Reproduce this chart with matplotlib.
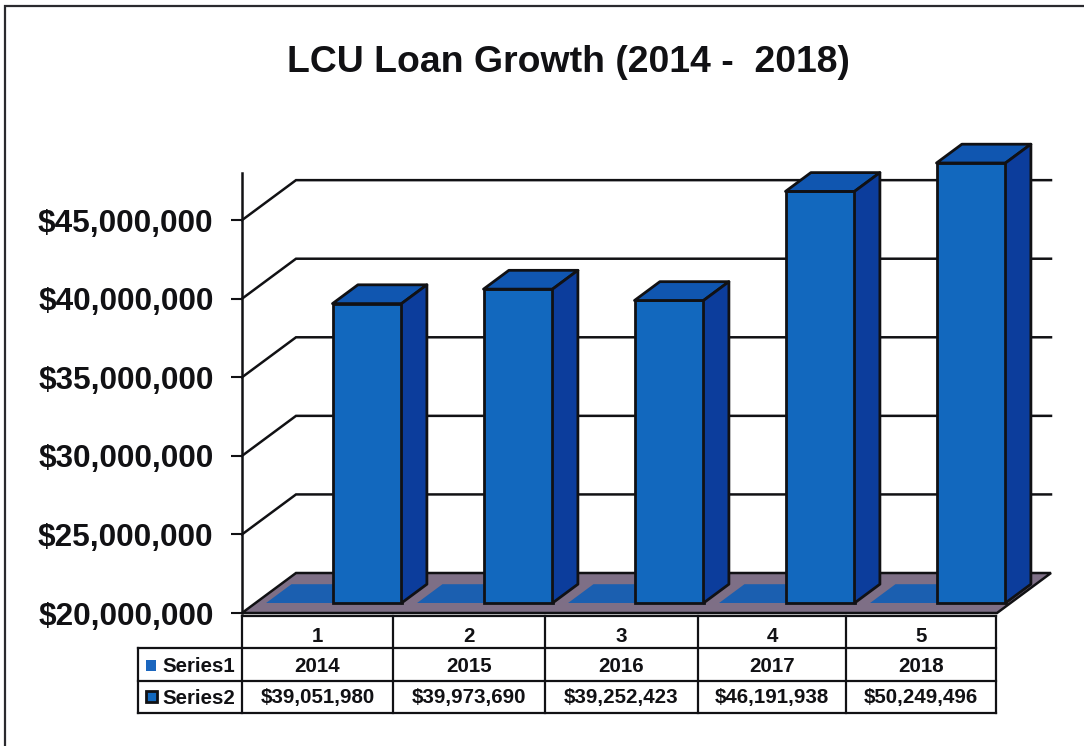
import matplotlib
matplotlib.use("Agg")
import matplotlib.pyplot as plt
from matplotlib.patches import Polygon, Rectangle
from matplotlib.ticker import FuncFormatter

plt.rcParams["font.family"] = ["Liberation Sans", "DejaVu Sans"]
plt.rcParams["font.weight"] = "bold"

# =========================
# DATA
# =========================
categories = ["1", "2", "3", "4", "5"]
years = [2014, 2015, 2016, 2017, 2018]
loans = [39051980, 39973690, 39252423, 46191938, 50249496]
y_ticks = [20000000, 25000000, 30000000, 35000000, 40000000, 45000000]
y_min = 20000000
y_max = 48000000

# =========================
# STYLE
# =========================
W, H = 1084, 746
INK = "#111114"
FRONT = "#1268BE"
SIDE = "#0C3D9C"
TOP = "#1056B0"
FLOOR = "#7E6F86"
FLAT_BAR = "#1B5FB0"

# table column edges and row edges, in pixels
COLS = [242, 393, 545, 698, 846, 996]
ROWS = [616, 648, 681, 713]
KEY_LEFT = 138

# depth of the 3D box: how far the back wall sits from the front edge
DEPTH_X = 54 / 151
DEPTH_Y = 40 / (440 / (y_max - y_min))

BAR_W = 0.457
S1_OFF = 0.07
S2_OFF = 0.51
D_FRONT = 0.25
D_BACK = 0.72


def project(x, value, depth):
    return x + depth * DEPTH_X, value + depth * DEPTH_Y


def box(ax, left, width, value, z):
    # front face goes through bar(), top and side are worked out from it
    value = min(value, y_max)
    x0, y0 = project(left, y_min, D_FRONT)
    _, y1 = project(left, value, D_FRONT)
    ax.bar(x0, y1 - y0, width=width, bottom=y0, align="edge", color=FRONT,
           edgecolor=INK, linewidth=2, zorder=z, clip_on=False)

    right = left + width
    top = [project(left, value, D_FRONT), project(right, value, D_FRONT),
           project(right, value, D_BACK), project(left, value, D_BACK)]
    side = [project(right, y_min, D_FRONT), project(right, value, D_FRONT),
            project(right, value, D_BACK), project(right, y_min, D_BACK)]
    ax.add_patch(Polygon(top, facecolor=TOP, edgecolor=INK, linewidth=2,
                         joinstyle="round", zorder=z, clip_on=False))
    ax.add_patch(Polygon(side, facecolor=SIDE, edgecolor=INK, linewidth=2,
                         joinstyle="round", zorder=z, clip_on=False))


# =========================
# FIGURE
# =========================
fig = plt.figure(figsize=(W / 100, H / 100), dpi=100, facecolor="white")

# full-size layer in pixel coordinates for frame, title and table
page = fig.add_axes([0, 0, 1, 1], zorder=0)
page.set_xlim(0, W)
page.set_ylim(H, 0)
page.axis("off")

page.plot([5, 5, W], [H, 6, 6], color="#2a2a2e", linewidth=1.6,
          solid_joinstyle="miter", clip_on=False)
page.text(568, 62, "LCU Loan Growth (2014 -  2018)", fontsize=26.9,
          ha="center", va="center", color=INK)

# =========================
# CHART
# =========================
ax = fig.add_axes([242 / W, (H - 613) / H, 755 / W, 440 / H], zorder=1)
ax.patch.set_alpha(0)
ax.set_xlim(0, len(categories))
ax.set_ylim(y_min, y_max)
for name in ["top", "right", "bottom"]:
    ax.spines[name].set_visible(False)
ax.spines["left"].set_linewidth(1.8)
ax.spines["left"].set_color(INK)
ax.set_xticks([])
ax.set_yticks(y_ticks)
ax.yaxis.set_major_formatter(FuncFormatter(lambda v, _: f"${v:,.0f}"))
ax.tick_params(axis="y", length=8, width=1.5, color=INK, pad=12.5,
               labelsize=22.7, labelcolor=INK)

# back wall gridlines
n = len(categories)
for tick in y_ticks[1:]:
    bx, by = project(0, tick, 1)
    ex, _ = project(n, tick, 1)
    ax.plot([0, bx, ex], [tick, by, by], color=INK, linewidth=1.8,
            zorder=1, clip_on=False, solid_joinstyle="miter")

# floor
floor = [project(0, y_min, 0), project(n, y_min, 0),
         project(n, y_min, 1), project(0, y_min, 1)]
ax.add_patch(Polygon(floor, facecolor=FLOOR, edgecolor=INK, linewidth=1.8,
                     zorder=2, clip_on=False))

# Series1 holds the years, all far below the axis, so it lies flat on the floor
for i, year in enumerate(years):
    left = i + S1_OFF
    flat = [project(left, y_min, D_FRONT), project(left + BAR_W, y_min, D_FRONT),
            project(left + BAR_W, y_min, D_BACK), project(left, y_min, D_BACK)]
    ax.add_patch(Polygon(flat, facecolor=FLAT_BAR, edgecolor="none",
                         zorder=3, clip_on=False))

# Series2 loan totals, cut off at the top of the axis
for i, value in enumerate(loans):
    box(ax, i + S2_OFF, BAR_W, value, 4 + i)

# =========================
# DATA TABLE
# =========================
line = dict(color=INK, linewidth=1.6, solid_capstyle="projecting", zorder=2)
page.plot([COLS[0], COLS[-1]], [ROWS[0], ROWS[0]], **line)
for y in ROWS[1:]:
    page.plot([KEY_LEFT, COLS[-1]], [y, y], **line)
for x in COLS:
    page.plot([x, x], [ROWS[0], ROWS[-1]], **line)
page.plot([KEY_LEFT, KEY_LEFT], [ROWS[1], ROWS[-1]], **line)

rows = [categories, [str(y) for y in years], [f"${v:,.0f}" for v in loans]]
label_y = [636, 666, 698]
for r, labels in enumerate(rows):
    for c, label in enumerate(labels):
        cx = (COLS[c] + COLS[c + 1]) / 2
        page.text(cx, label_y[r], label, fontsize=14.8, ha="center",
                  va="center", color=INK)

page.add_patch(Rectangle((146, 660), 10, 11, facecolor="#1B66BE", edgecolor="none"))
page.add_patch(Rectangle((146, 691), 11, 11, facecolor="#1268BE", edgecolor=INK,
                         linewidth=2))
for label, y in zip(["Series1", "Series2"], [666, 698]):
    page.text(162, y, label, fontsize=14.8, ha="left", va="center", color=INK)

fig.savefig("out.png", dpi=100)
